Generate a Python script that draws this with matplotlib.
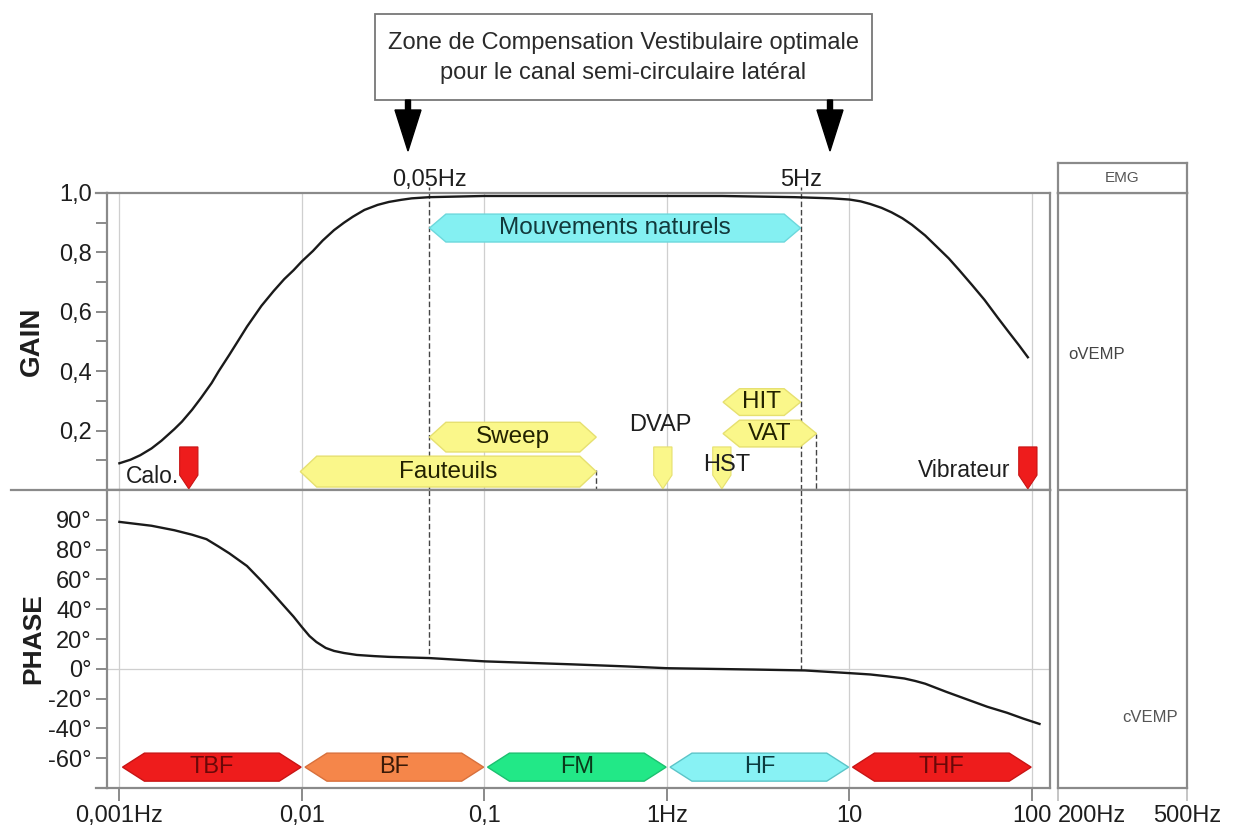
import matplotlib
matplotlib.use("Agg")
import matplotlib.pyplot as plt
import numpy as np
from matplotlib.patches import Polygon, Rectangle, FancyArrow
from matplotlib.ticker import NullLocator

plt.rcParams['font.family'] = ['Liberation Sans', 'DejaVu Sans']

# courbe de gain
gain_f = [0.001, 0.00115, 0.0013, 0.0015, 0.0017, 0.002, 0.0022, 0.0025, 0.0028, 0.0032,
          0.0035, 0.004, 0.0045, 0.005, 0.006, 0.007, 0.008, 0.009, 0.01, 0.0115,
          0.013, 0.015, 0.017, 0.019, 0.022, 0.026, 0.03, 0.035, 0.04, 0.05,
          0.1, 0.5, 1, 2, 5, 8, 10, 11.5, 13, 15,
          17, 19.5, 22, 26, 30, 35, 40, 47, 55, 65,
          75, 85, 95]
gain_v = [0.09, 0.102, 0.117, 0.14, 0.166, 0.205, 0.23, 0.27, 0.31, 0.36,
          0.40, 0.455, 0.505, 0.55, 0.62, 0.67, 0.71, 0.74, 0.77, 0.805,
          0.84, 0.875, 0.90, 0.92, 0.943, 0.96, 0.97, 0.977, 0.982, 0.986,
          0.99, 0.99, 0.99, 0.99, 0.986, 0.982, 0.978, 0.972, 0.963, 0.95,
          0.935, 0.915, 0.893, 0.857, 0.82, 0.78, 0.74, 0.69, 0.64, 0.58,
          0.53, 0.487, 0.447]

# courbe de phase (degres)
phase_f = [0.001, 0.0015, 0.002, 0.0025, 0.003, 0.0035, 0.004, 0.005, 0.006, 0.007,
           0.008, 0.009, 0.01, 0.011, 0.012, 0.0135, 0.015, 0.017, 0.02, 0.025,
           0.03, 0.05, 0.1, 0.3, 0.6, 1, 3, 5.7, 10, 13,
           16, 20, 23, 26, 34, 44, 57, 73, 90, 110]
phase_v = [89.3, 88, 86.5, 85, 83.5, 81, 77.5, 69, 59, 50,
           42, 35, 28, 22, 18, 14, 12, 10.6, 9.3, 8.5,
           8, 7.2, 5, 3, 1.6, 0.4, -0.5, -1.1, -2.9, -3.8,
           -5, -6.5, -8.2, -10, -15.5, -20.5, -25.5, -29.5, -33.5, -37]

decades = [0.001, 0.01, 0.1, 1, 10, 100]
decade_labels = ["0,001Hz", "0,01", "0,1", "1Hz", "10", "100"]
gain_ticks = [0.2, 0.4, 0.6, 0.8, 1.0]
gain_labels = ["0,2", "0,4", "0,6", "0,8", "1,0"]
phase_ticks = [90, 80, 60, 40, 20, 0, -20, -40, -60]
phase_labels = ["90°", "80°", "60°", "40°", "20°", "0°", "-20°", "-40°", "-60°"]

# zone optimale 0,05Hz - 5Hz
zone_f = [0.05, 5.4]
zone_labels = ["0,05Hz", "5Hz"]

# bandes de frequence (phase)
bands = ["TBF", "BF", "FM", "HF", "THF"]
band_lo = [0.001, 0.01, 0.1, 1, 10]
band_hi = [0.01, 0.1, 1, 10, 100]
band_face = ["#ee1c1c", "#f5864a", "#22e887", "#88f2f4", "#ee1c1c"]
band_edge = ["#c81414", "#d8703c", "#1cc070", "#5cc4c8", "#c81414"]
band_text = ["#6a0808", "#3a1a08", "#0a3a1a", "#0c3c40", "#6a0808"]

# tests (gain)
tests = ["Mouvements naturels", "Sweep", "Fauteuils", "HIT", "VAT"]
test_lo = [0.05, 0.05, 0.0098, 2.03, 2.03]
test_hi = [5.4, 0.41, 0.41, 5.4, 6.6]
test_y = [0.882, 0.178, 0.062, 0.296, 0.19]
test_h = [0.094, 0.10, 0.104, 0.09, 0.09]

# marqueurs ponctuels
pins = ["DVAP", "HST", "Calo.", "Vibrateur"]
pin_f = [0.95, 2.0, 0.0024, 95]

fig = plt.figure(figsize=(12.34, 8.35), dpi=100)
W, H = 1234, 835

left, right = 107 / W, 1050 / W
ax_g = fig.add_axes([left, 1 - 490 / H, right - left, 297 / H])
ax_p = fig.add_axes([left, 1 - 788 / H, right - left, 298 / H])

grey = "#8a8a8a"
ink = "#1e1e1e"
xmin, xmax = 10 ** -3.068, 10 ** 2.099


def fwd(v):
    v = np.asarray(v, dtype=float)
    return np.where(v > 80, 80 + 2 * (v - 80), v)


def inv(u):
    u = np.asarray(u, dtype=float)
    return np.where(u > 80, 80 + (u - 80) / 2, u)


for ax in (ax_g, ax_p):
    ax.set_xscale("log")
    ax.set_xlim(xmin, xmax)
    for s in ax.spines.values():
        s.set_color(grey)
        s.set_linewidth(1.6)
    ax.xaxis.set_minor_locator(NullLocator())
    for d in decades:
        ax.axvline(d, color="#cfcfcf", lw=0.9, zorder=0)
    ax.tick_params(axis="y", direction="out", length=8, width=1.4, color=grey,
                   labelsize=17, labelcolor=ink, pad=3)

# ---- gain
ax_g.set_ylim(0, 1.0)
ax_g.set_yticks(gain_ticks)
ax_g.set_yticklabels(gain_labels)
ax_g.set_yticks([0.1, 0.3, 0.5, 0.7, 0.9], minor=True)
ax_g.tick_params(axis="y", which="minor", direction="out", length=8, width=1.4, color=grey)
ax_g.tick_params(axis="x", bottom=False, labelbottom=False)
ax_g.plot(gain_f, gain_v, color="#1a1a1a", lw=1.7, zorder=5)
ax_g.set_ylabel("GAIN", fontsize=20, fontweight="bold", color=ink)
ax_g.yaxis.set_label_coords(-0.066, 0.5)
# separation prolongee a gauche
ax_g.plot([-0.102, 1], [0, 0], transform=ax_g.transAxes, color=grey, lw=1.6, clip_on=False)
ax_g.plot([-0.012, 0], [1, 1], transform=ax_g.transAxes, color=grey, lw=1.6, clip_on=False)

# ---- phase
ax_p.set_yscale("function", functions=(fwd, inv))
ax_p.set_ylim(-80, 100)
ax_p.set_yticks(phase_ticks)
ax_p.set_yticklabels(phase_labels)
ax_p.yaxis.set_minor_locator(NullLocator())
ax_p.set_xticks(decades)
ax_p.set_xticklabels(decade_labels)
ax_p.tick_params(axis="x", direction="out", length=9, width=1.4, color=grey,
                 labelsize=17, labelcolor=ink, pad=3)
ax_p.axhline(0, color="#cfcfcf", lw=0.9, zorder=0)
ax_p.plot(phase_f, phase_v, color="#1a1a1a", lw=1.7, zorder=5)
ax_p.set_ylabel("PHASE", fontsize=19, fontweight="bold", color=ink)
ax_p.yaxis.set_label_coords(-0.066, 0.5)
ax_p.plot([-0.012, 0], [0, 0], transform=ax_p.transAxes, color=grey, lw=1.6, clip_on=False)


def hexarrow(ax, f0, f1, yc, h, face, edge, label, tcolor, tip=0.1, fs=17):
    a, b = np.log10(f0), np.log10(f1)
    xs = 10 ** np.array([a, a + tip, b - tip, b, b - tip, a + tip])
    ys = np.array([yc, yc + h / 2, yc + h / 2, yc, yc - h / 2, yc - h / 2])
    ax.add_patch(Polygon(np.column_stack([xs, ys]), closed=True, fc=face, ec=edge,
                         lw=1, zorder=3))
    ax.text(10 ** ((a + b) / 2), yc, label, ha="center", va="center", fontsize=fs,
            color=tcolor, zorder=4)


def pin(ax, f, face, edge, w=0.05, top=0.145, mid=0.05, bot=0.004):
    l = np.log10(f)
    xs = 10 ** np.array([l - w, l + w, l + w, l, l - w])
    ys = [top, top, mid, bot, mid]
    ax.add_patch(Polygon(np.column_stack([xs, ys]), closed=True, fc=face, ec=edge,
                         lw=0.8, zorder=3))


# bandes de phase
for name, lo, hi, fc, ec, tc in zip(bands, band_lo, band_hi, band_face, band_edge, band_text):
    hexarrow(ax_p, lo * 1.04, hi / 1.01, -66, 18.8, fc, ec, name, tc, tip=0.12, fs=17)

# tests du gain
test_face = ["#84f0f2", "#faf78a", "#faf78a", "#faf78a", "#faf78a"]
test_edge = ["#6cd8dc", "#e6e070", "#e6e070", "#e6e070", "#e6e070"]
test_text = ["#12393b", "#222200", "#222200", "#222200", "#222200"]
for name, lo, hi, yc, h, fc, ec, tc in zip(tests, test_lo, test_hi, test_y, test_h,
                                          test_face, test_edge, test_text):
    hexarrow(ax_g, lo, hi, yc, h, fc, ec, name, tc, tip=0.09, fs=17.5)

# marqueurs
pin(ax_g, pin_f[0], "#faf78a", "#e6e070")
pin(ax_g, pin_f[1], "#faf78a", "#e6e070")
pin(ax_g, pin_f[2], "#ee1c1c", "#c81414")
pin(ax_g, pin_f[3], "#ee1c1c", "#c81414")
ax_g.text(0.915, 0.219, "DVAP", ha="center", va="center", fontsize=17, color=ink)
ax_g.text(2.13, 0.084, "HST", ha="center", va="center", fontsize=17, color=ink, zorder=4)
ax_g.text(0.00212, 0.045, "Calo.", ha="right", va="center", fontsize=16.5, color=ink)
ax_g.text(76, 0.067, "Vibrateur", ha="right", va="center", fontsize=16.5, color=ink)

# lignes pointillees
dash = dict(color="#444444", lw=1, ls=(0, (4, 2)), zorder=2)
for f, lab in zip(zone_f, zone_labels):
    ax_g.plot([f, f], [0, 1.02], clip_on=False, **dash)
    ax_p.plot([f, f], [100, np.interp(np.log10(f), np.log10(phase_f), phase_v)], **dash)
    ax_g.text(f, 1.045, lab, ha="center", va="center", fontsize=17, color=ink)
ax_g.plot([0.41, 0.41], [-0.035, 0.067], clip_on=False, **dash)
ax_g.plot([6.6, 6.6], [-0.05, 0.19], clip_on=False, **dash)
ax_g.text(0.41, -0.087, "0,5Hz", ha="center", va="center", fontsize=17, color=ink)
ax_g.text(1.9, -0.076, "2Hz", ha="center", va="center", fontsize=17, color=ink)
ax_g.text(7.1, -0.076, "6Hz", ha="center", va="center", fontsize=17, color=ink)
ax_g.text(0.0028, -0.087, "0,003Hz", ha="center", va="center", fontsize=17, color=ink)

# ---- panneau EMG
emg = fig.add_axes([1058 / W, 1 - 788 / H, 129 / W, 595 / H])
head = fig.add_axes([1058 / W, 1 - 193 / H, 129 / W, 30 / H])
for ax in (emg, head):
    for s in ax.spines.values():
        s.set_color(grey)
        s.set_linewidth(1.6)
    ax.set_xlim(0, 1)
    ax.set_ylim(0, 1)
    ax.set_yticks([])
head.set_xticks([])
head.text(0.5, 0.5, "EMG", ha="center", va="center", fontsize=11, color="#555555")
emg.axhline(0.501, color=grey, lw=1.6)
emg.set_xticks([0, 1])
emg.set_xticklabels(["200Hz", "500Hz"])
emg.tick_params(axis="x", direction="out", length=9, width=1.2, color="#bbbbbb",
                labelsize=17, labelcolor=ink, pad=3)
emg.get_xticklabels()[0].set_ha("left")
emg.text(0.08, 0.728, "oVEMP", ha="left", va="center", fontsize=12, color="#444444")
emg.text(0.93, 0.119, "cVEMP", ha="right", va="center", fontsize=12, color="#555555")

# ---- encadre du haut (coordonnees pixels)
lay = fig.add_axes([0, 0, 1, 1])
lay.set_xlim(0, W)
lay.set_ylim(H, 0)
lay.axis("off")
lay.add_patch(Rectangle((375, 14), 497, 86, fc="white", ec="#777777", lw=1.3))
lay.text(623, 43, "Zone de Compensation Vestibulaire optimale", ha="center", va="center",
         fontsize=17, color="#2a2a2a")
lay.text(623, 73, "pour le canal semi-circulaire latéral", ha="center", va="center",
         fontsize=17, color="#2a2a2a")
for x in (408, 830):
    lay.add_patch(FancyArrow(x, 100, 0, 51, width=5, head_width=26, head_length=41,
                             length_includes_head=True, fc="black", ec="black"))

fig.savefig("out.png", dpi=100)
